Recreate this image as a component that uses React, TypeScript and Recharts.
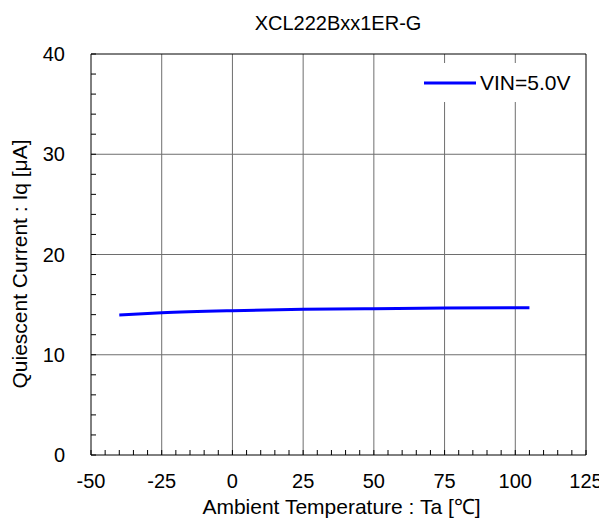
import { LineChart, Line, XAxis, YAxis, CartesianGrid, ReferenceLine, Legend } from "recharts";

const temperature = [-40, -25, 0, 25, 50, 75, 105];
const iqVin50 = [13.97, 14.18, 14.4, 14.55, 14.6, 14.66, 14.7];

const xTicks = [-50, -45, -40, -35, -30, -25, -20, -15, -10, -5, 0, 5, 10, 15, 20, 25, 30, 35, 40, 45, 50, 55, 60, 65, 70, 75, 80, 85, 90, 95, 100, 105, 110, 115, 120, 125];
const yTicks = [0, 2, 4, 6, 8, 10, 12, 14, 16, 18, 20, 22, 24, 26, 28, 30, 32, 34, 36, 38, 40];
const xGrid = [-25, 0, 25, 50, 75, 100];
const yGrid = [10, 20, 30];

const data = temperature.map((ta, i) => ({ ta, iq: iqVin50[i] }));

const FONT = '"Liberation Sans", Arial, sans-serif';

const LegendBox = () => (
  <div style={{ background: "#fff", width: 166, height: 39, position: "relative", fontFamily: FONT }}>
    <svg width={166} height={39} style={{ position: "absolute", left: 0, top: 0 }}>
      <line x1={8} y1={20} x2={60} y2={20} stroke="#0000ff" strokeWidth={3} />
      <text x={64} y={27} fontSize={21} fill="#000">VIN=5.0V</text>
    </svg>
  </div>
);

const App = () => {
  return (
    <LineChart
      width={599}
      height={512}
      data={data}
      margin={{ top: 46, right: 21, left: 0, bottom: 0 }}
      style={{ fontFamily: FONT }}
    >
      <CartesianGrid stroke="#6e6e6e" horizontalValues={yGrid} verticalValues={xGrid} />
      <XAxis
        type="number"
        dataKey="ta"
        domain={[-50, 125]}
        ticks={xTicks}
        interval={0}
        tickFormatter={(v: number) => (v % 25 === 0 ? String(v) : "")}
        tickSize={-5}
        tickMargin={24}
        height={65}
        axisLine={{ stroke: "#000" }}
        tickLine={{ stroke: "#000" }}
        tick={{ fill: "#000", fontSize: 20 }}
        label={{ value: "Ambient Temperature : Ta [℃]", position: "insideBottom", offset: 6, dx: 3, fill: "#000", fontSize: 21 }}
      />
      <YAxis
        type="number"
        domain={[0, 40]}
        ticks={yTicks}
        interval={0}
        tickFormatter={(v: number) => (v % 10 === 0 ? String(v) : "")}
        tickSize={-5}
        tickMargin={31}
        width={83}
        axisLine={{ stroke: "#000" }}
        tickLine={{ stroke: "#000" }}
        tick={{ fill: "#000", fontSize: 20 }}
      />
      <ReferenceLine y={40} stroke="#000" />
      <ReferenceLine x={125} stroke="#000" />
      <Legend
        layout="horizontal"
        verticalAlign="middle"
        align="center"
        content={() => <LegendBox />}
        wrapperStyle={{ top: 55, left: 408, width: 166, height: 39 }}
      />
      <Line
        type="monotone"
        dataKey="iq"
        stroke="#0000ff"
        strokeWidth={3}
        dot={false}
        isAnimationActive={false}
      />
      <text x={330} y={22} textAnchor="middle" fontSize={20} fill="#000">
        XCL222Bxx1ER-G
      </text>
      <text x={19} y={256} textAnchor="middle" fontSize={21} fill="#000" transform="rotate(-90 19 256)">
        Quiescent Current : Iq [μA]
      </text>
    </LineChart>
  );
};

export default App;
